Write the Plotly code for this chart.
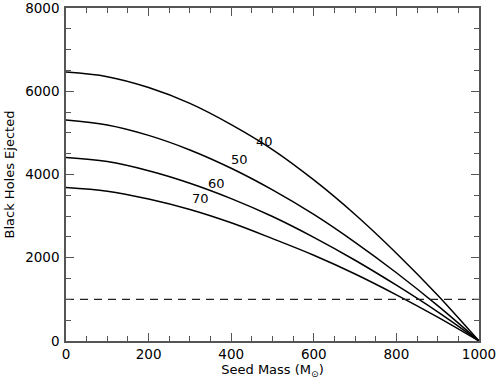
import plotly.graph_objects as go

# Data
seed_mass = [0, 100, 200, 300, 400, 500, 600, 700, 800, 900, 1000]
ejected_40 = [6460, 6350, 6090, 5710, 5200, 4600, 3870, 3040, 2110, 1100, 0]
ejected_50 = [5310, 5190, 4940, 4590, 4150, 3630, 3040, 2370, 1640, 850, 0]
ejected_60 = [4410, 4310, 4090, 3790, 3420, 2990, 2490, 1940, 1340, 700, 0]
ejected_70 = [3690, 3600, 3410, 3160, 2840, 2460, 2060, 1610, 1110, 575, 0]
series = [("40", ejected_40), ("50", ejected_50), ("60", ejected_60), ("70", ejected_70)]

threshold_x = [0, 1000]
threshold_y = [1000, 1000]

label_text = ["40", "50", "60", "70"]
label_x = [480, 420, 365, 325]
label_y = [4800, 4350, 3790, 3420]

x_tick_vals = [0, 200, 400, 600, 800, 1000]
y_tick_vals = [0, 2000, 4000, 6000, 8000]

FONT = "DejaVu Sans"
AX = "#555555"

fig = go.Figure()
for name, ys in series:
    fig.add_trace(go.Scatter(x=seed_mass, y=ys, mode="lines", name=name,
                             line=dict(color="black", width=1.5, shape="spline", smoothing=1.0),
                             showlegend=False, hoverinfo="skip"))

fig.add_trace(go.Scatter(x=threshold_x, y=threshold_y, mode="lines",
                         line=dict(color="#222222", width=1.3, dash="8px,6px"),
                         showlegend=False, hoverinfo="skip"))

for t, lx, ly in zip(label_text, label_x, label_y):
    fig.add_annotation(x=lx, y=ly, text=t, showarrow=False,
                       font=dict(family=FONT, size=13, color="black"))

axis_common = dict(
    showgrid=False, zeroline=False, showline=True, linecolor=AX, linewidth=1.5,
    mirror="allticks", ticks="inside", ticklen=8, tickwidth=1.2, tickcolor=AX,
    tickfont=dict(family=FONT, size=13.5, color="black"), automargin=False,
    ticklabeloverflow="allow",
)

fig.update_xaxes(range=[0, 1000], tickvals=x_tick_vals,
                 minor=dict(dtick=50, ticks="inside", ticklen=5, tickwidth=1.2, tickcolor=AX),
                 title=dict(text="Seed Mass (M<sub>⊙</sub>)", standoff=2,
                            font=dict(family=FONT, size=13, color="black")),
                 **axis_common)
fig.update_yaxes(range=[0, 8000], tickvals=y_tick_vals,
                 minor=dict(dtick=500, ticks="inside", ticklen=5, tickwidth=1.2, tickcolor=AX),
                 ticklabelstandoff=2,
                 title=dict(text="Black Holes Ejected", standoff=8,
                            font=dict(family=FONT, size=13, color="black")),
                 **axis_common)

fig.update_layout(width=500, height=380,
                  margin=dict(l=66, r=21, t=8, b=39),
                  paper_bgcolor="white", plot_bgcolor="white",
                  font=dict(family=FONT, color="black"))

fig.write_html("out.html", config={"displayModeBar": False},
               post_script="document.body.style.margin='0';document.body.style.padding='0';")
